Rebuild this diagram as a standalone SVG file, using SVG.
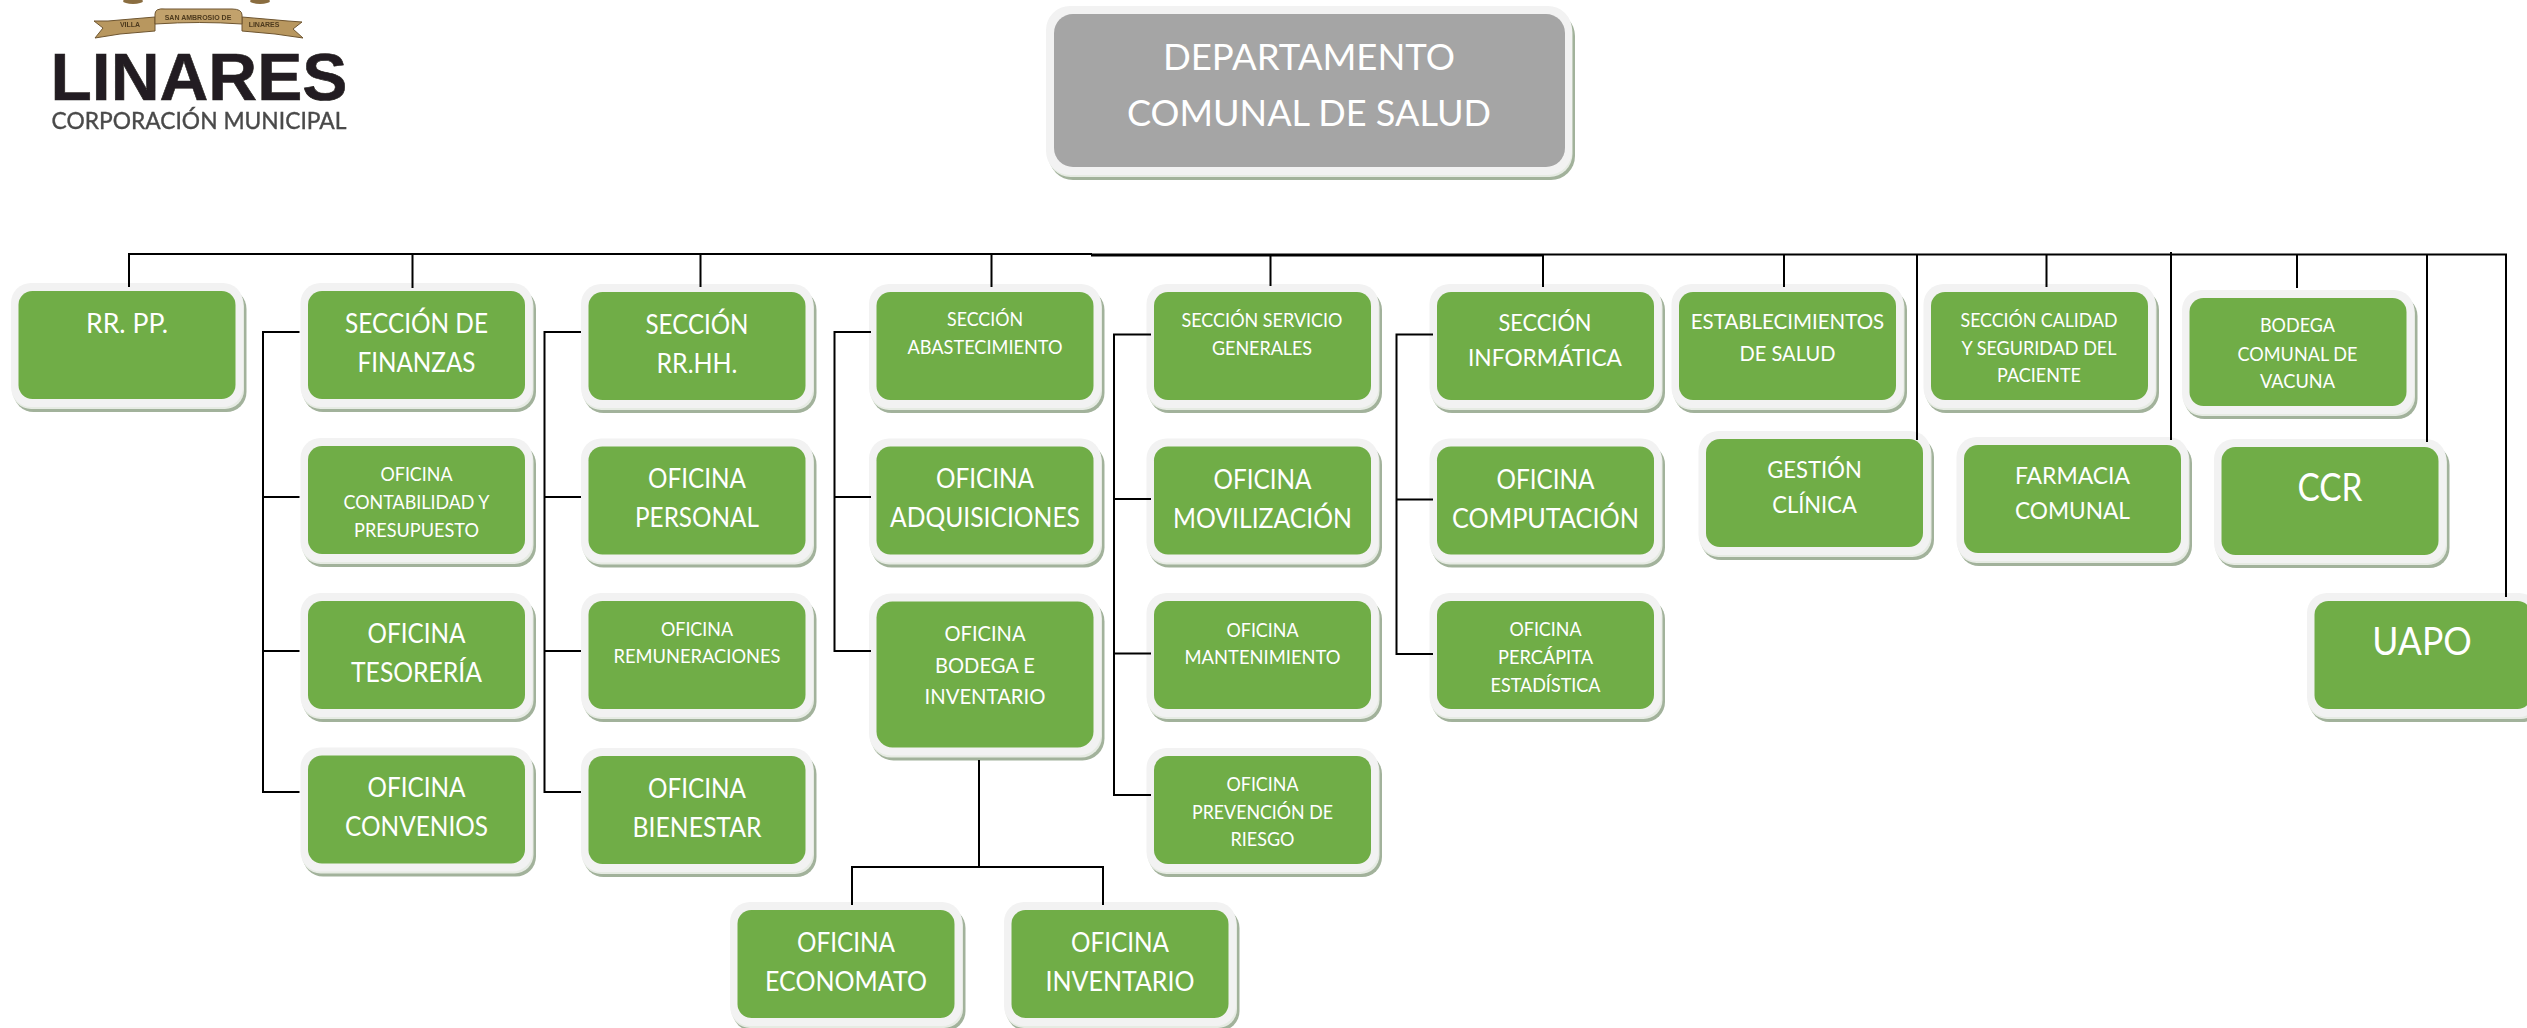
<svg xmlns="http://www.w3.org/2000/svg" width="2527" height="1028" viewBox="0 0 2527 1028">
<style>
text{font-family:Lato,"Open Sans",sans-serif;fill:#fff;text-anchor:middle}
.xl{font-size:38px}.d{font-size:36px}.l{font-size:26px}.ml{font-size:23.500px}.m{font-size:22px}.e{font-size:21px}.s{font-size:19px}
.sh{fill:#a2b29b}.hl{fill:#e6ebe3}.bd{fill:#f2f2f2}.gr{fill:#70ad47}.gy{fill:#a5a5a5}
.lg{font-family:"Liberation Sans",sans-serif;font-size:7px;font-weight:700;fill:#4d3a1e}
#connectors path{fill:none;stroke:#000;stroke-width:2}
</style>
<defs>
<g id="box"><rect class="sh" x="-5" y="-2" width="233" height="123" rx="20"/><rect class="hl" x="-6.500" y="-4" width="232" height="122" rx="19"/><rect class="bd" x="-7.500" y="-8" width="232" height="124" rx="20"/><rect class="gr" width="217" height="108" rx="14"/></g>
<g id="tall"><rect class="sh" x="-5" y="-2" width="233" height="161" rx="22"/><rect class="hl" x="-6.500" y="-4" width="232" height="160" rx="21"/><rect class="bd" x="-7.500" y="-8" width="232" height="162" rx="22"/><rect class="gr" width="217" height="146" rx="16"/></g>
<filter id="soft" x="-5%" y="-5%" width="110%" height="110%"><feGaussianBlur stdDeviation="0.6"/></filter>
</defs>

<g id="logo" filter="url(#soft)">
<ellipse cx="133" cy="1" rx="10" ry="3" fill="#8a6d3f"/><ellipse cx="260" cy="1" rx="10" ry="3" fill="#8a6d3f"/>
<path d="M108 21L94 21L103 28L95 38L120 34L155 31L155 17Z" fill="#b8975f" stroke="#6e5530"/>
<path d="M242 17L288 21L302 22L293 29L303 38L275 34L242 31Z" fill="#b8975f" stroke="#6e5530"/>
<path d="M155 14Q155 8 165 9L232 9Q242 9 242 15L242 24Q200 21 155 24Z" fill="#c2a26c" stroke="#6e5530"/>
<text class="lg" x="130" y="27">VILLA</text>
<text class="lg" x="198" y="20">SAN AMBROSIO DE</text>
<text class="lg" x="264" y="27">LINARES</text>
<text x="199" y="100" textLength="297" lengthAdjust="spacingAndGlyphs" style="font-family:'Liberation Sans',sans-serif;font-size:67px;font-weight:700;fill:#231f20;stroke:#231f20;stroke-width:.6">LINARES</text>
<text x="199" y="129" textLength="295" lengthAdjust="spacingAndGlyphs" style="font-family:Lato,sans-serif;font-size:24px;fill:#4a4a4a;stroke:#4a4a4a;stroke-width:.4">CORPORACIÓN MUNICIPAL</text>
</g>

<g id="dept"><rect class="sh" x="1049" y="12" width="526" height="168" rx="24"/><rect class="hl" x="1047.500" y="10" width="525" height="167" rx="23"/><rect class="bd" x="1046" y="6" width="526" height="169" rx="24"/><rect class="gy" x="1054" y="14" width="511" height="153" rx="19"/><text class="d" x="1309" y="70" textLength="292" lengthAdjust="spacingAndGlyphs">DEPARTAMENTO</text><text class="d" x="1309" y="126" textLength="364" lengthAdjust="spacingAndGlyphs">COMUNAL DE SALUD</text></g>

<g id="rrpp" transform="translate(18.500,291)"><use href="#box"/><text class="l" x="108.500" y="41.500" textLength="82" lengthAdjust="spacingAndGlyphs">RR. PP.</text></g>
<g id="finanzas" transform="translate(308,291)"><use href="#box"/><text class="l" x="108.500" y="41.500" textLength="143" lengthAdjust="spacingAndGlyphs">SECCIÓN DE</text><text class="l" x="108.500" y="81" textLength="118" lengthAdjust="spacingAndGlyphs">FINANZAS</text></g>
<g id="contabilidad" transform="translate(308,446)"><use href="#box"/><text class="s" x="108.500" y="35" textLength="72" lengthAdjust="spacingAndGlyphs">OFICINA</text><text class="s" x="108.500" y="63" textLength="146" lengthAdjust="spacingAndGlyphs">CONTABILIDAD Y</text><text class="s" x="108.500" y="91" textLength="125" lengthAdjust="spacingAndGlyphs">PRESUPUESTO</text></g>
<g id="tesoreria" transform="translate(308,601)"><use href="#box"/><text class="l" x="108.500" y="42" textLength="98" lengthAdjust="spacingAndGlyphs">OFICINA</text><text class="l" x="108.500" y="81" textLength="131" lengthAdjust="spacingAndGlyphs">TESORERÍA</text></g>
<g id="convenios" transform="translate(308,755.500)"><use href="#box"/><text class="l" x="108.500" y="41.500" textLength="98" lengthAdjust="spacingAndGlyphs">OFICINA</text><text class="l" x="108.500" y="80.500" textLength="143" lengthAdjust="spacingAndGlyphs">CONVENIOS</text></g>

<g id="rrhh" transform="translate(588.500,292)"><use href="#box"/><text class="l" x="108.500" y="42" textLength="103" lengthAdjust="spacingAndGlyphs">SECCIÓN</text><text class="l" x="108.500" y="80.500" textLength="81" lengthAdjust="spacingAndGlyphs">RR.HH.</text></g>
<g id="personal" transform="translate(588.500,446.500)"><use href="#box"/><text class="l" x="108.500" y="41" textLength="98" lengthAdjust="spacingAndGlyphs">OFICINA</text><text class="l" x="108.500" y="80.500" textLength="124" lengthAdjust="spacingAndGlyphs">PERSONAL</text></g>
<g id="remuneraciones" transform="translate(588.500,601)"><use href="#box"/><text class="s" x="108.500" y="35" textLength="72" lengthAdjust="spacingAndGlyphs">OFICINA</text><text class="s" x="108.500" y="62" textLength="167" lengthAdjust="spacingAndGlyphs">REMUNERACIONES</text></g>
<g id="bienestar" transform="translate(588.500,756)"><use href="#box"/><text class="l" x="108.500" y="41.500" textLength="98" lengthAdjust="spacingAndGlyphs">OFICINA</text><text class="l" x="108.500" y="81" textLength="129" lengthAdjust="spacingAndGlyphs">BIENESTAR</text></g>

<g id="abastecimiento" transform="translate(876.500,292)"><use href="#box"/><text class="s" x="108.500" y="34" textLength="76" lengthAdjust="spacingAndGlyphs">SECCIÓN</text><text class="s" x="108.500" y="62" textLength="155" lengthAdjust="spacingAndGlyphs">ABASTECIMIENTO</text></g>
<g id="adquisiciones" transform="translate(876.500,446.500)"><use href="#box"/><text class="l" x="108.500" y="41.500" textLength="98" lengthAdjust="spacingAndGlyphs">OFICINA</text><text class="l" x="108.500" y="80" textLength="190" lengthAdjust="spacingAndGlyphs">ADQUISICIONES</text></g>
<g id="bodega" transform="translate(876.500,601.500)"><use href="#tall"/><text class="m" x="108.500" y="39.500" textLength="81" lengthAdjust="spacingAndGlyphs">OFICINA</text><text class="m" x="108.500" y="71" textLength="100" lengthAdjust="spacingAndGlyphs">BODEGA E</text><text class="m" x="108.500" y="102" textLength="121" lengthAdjust="spacingAndGlyphs">INVENTARIO</text></g>
<g id="economato" transform="translate(737.500,910)"><use href="#box"/><text class="l" x="108.500" y="41.500" textLength="98" lengthAdjust="spacingAndGlyphs">OFICINA</text><text class="l" x="108.500" y="80.500" textLength="162" lengthAdjust="spacingAndGlyphs">ECONOMATO</text></g>
<g id="inventario" transform="translate(1011.500,910)"><use href="#box"/><text class="l" x="108.500" y="41.500" textLength="98" lengthAdjust="spacingAndGlyphs">OFICINA</text><text class="l" x="108.500" y="80.500" textLength="149" lengthAdjust="spacingAndGlyphs">INVENTARIO</text></g>

<g id="servicio" transform="translate(1154,292)"><use href="#box"/><text class="s" x="108" y="35" textLength="161" lengthAdjust="spacingAndGlyphs">SECCIÓN SERVICIO</text><text class="s" x="108" y="63" textLength="100" lengthAdjust="spacingAndGlyphs">GENERALES</text></g>
<g id="movilizacion" transform="translate(1154,446.500)"><use href="#box"/><text class="l" x="108.500" y="42.500" textLength="98" lengthAdjust="spacingAndGlyphs">OFICINA</text><text class="l" x="108.500" y="81" textLength="179" lengthAdjust="spacingAndGlyphs">MOVILIZACIÓN</text></g>
<g id="mantenimiento" transform="translate(1154,601)"><use href="#box"/><text class="s" x="108.500" y="35.500" textLength="72" lengthAdjust="spacingAndGlyphs">OFICINA</text><text class="s" x="108.500" y="63" textLength="156" lengthAdjust="spacingAndGlyphs">MANTENIMIENTO</text></g>
<g id="prevencion" transform="translate(1154,756)"><use href="#box"/><text class="s" x="108.500" y="35" textLength="72" lengthAdjust="spacingAndGlyphs">OFICINA</text><text class="s" x="108.500" y="63" textLength="141" lengthAdjust="spacingAndGlyphs">PREVENCIÓN DE</text><text class="s" x="108.500" y="90" textLength="64" lengthAdjust="spacingAndGlyphs">RIESGO</text></g>

<g id="informatica" transform="translate(1437,292)"><use href="#box"/><text class="ml" x="108" y="39" textLength="93" lengthAdjust="spacingAndGlyphs">SECCIÓN</text><text class="ml" x="108" y="74" textLength="154" lengthAdjust="spacingAndGlyphs">INFORMÁTICA</text></g>
<g id="computacion" transform="translate(1437,446.500)"><use href="#box"/><text class="l" x="108.500" y="42.500" textLength="98" lengthAdjust="spacingAndGlyphs">OFICINA</text><text class="l" x="108.500" y="81" textLength="187" lengthAdjust="spacingAndGlyphs">COMPUTACIÓN</text></g>
<g id="percapita" transform="translate(1437,601)"><use href="#box"/><text class="s" x="108.500" y="35" textLength="72" lengthAdjust="spacingAndGlyphs">OFICINA</text><text class="s" x="108.500" y="63" textLength="95" lengthAdjust="spacingAndGlyphs">PERCÁPITA</text><text class="s" x="108.500" y="91" textLength="110" lengthAdjust="spacingAndGlyphs">ESTADÍSTICA</text></g>

<g id="establecimientos" transform="translate(1679,292)"><use href="#box"/><text class="e" x="108.500" y="37" textLength="193.500" lengthAdjust="spacingAndGlyphs">ESTABLECIMIENTOS</text><text class="e" x="108.500" y="69" textLength="96" lengthAdjust="spacingAndGlyphs">DE SALUD</text></g>
<g id="calidad" transform="translate(1931,292)"><use href="#box"/><text class="s" x="108" y="35" textLength="157" lengthAdjust="spacingAndGlyphs">SECCIÓN CALIDAD</text><text class="s" x="108" y="63" textLength="155" lengthAdjust="spacingAndGlyphs">Y SEGURIDAD DEL</text><text class="s" x="108" y="90" textLength="84" lengthAdjust="spacingAndGlyphs">PACIENTE</text></g>
<g id="vacuna" transform="translate(2189.500,298)"><use href="#box"/><text class="s" x="108" y="34" textLength="75" lengthAdjust="spacingAndGlyphs">BODEGA</text><text class="s" x="108" y="63" textLength="120" lengthAdjust="spacingAndGlyphs">COMUNAL DE</text><text class="s" x="108" y="90" textLength="75" lengthAdjust="spacingAndGlyphs">VACUNA</text></g>
<g id="gestion" transform="translate(1706,439)"><use href="#box"/><text class="ml" x="108.500" y="39" textLength="94.500" lengthAdjust="spacingAndGlyphs">GESTIÓN</text><text class="ml" x="108.500" y="74" textLength="84.500" lengthAdjust="spacingAndGlyphs">CLÍNICA</text></g>
<g id="farmacia" transform="translate(1964,445)"><use href="#box"/><text class="ml" x="108.500" y="39" textLength="115" lengthAdjust="spacingAndGlyphs">FARMACIA</text><text class="ml" x="108.500" y="74" textLength="115" lengthAdjust="spacingAndGlyphs">COMUNAL</text></g>
<g id="ccr" transform="translate(2221.500,447)"><use href="#box"/><text class="xl" x="108.500" y="54" textLength="65" lengthAdjust="spacingAndGlyphs">CCR</text></g>
<g id="uapo" transform="translate(2314.500,601)"><use href="#box"/><text class="xl" x="107.500" y="54" textLength="99.500" lengthAdjust="spacingAndGlyphs">UAPO</text></g>

<g id="connectors">
<path d="M129 287V254H1092"/>
<path d="M1091 255H1543" style="stroke-width:3"/>
<path d="M1543 254.500H2506V597"/>
<path d="M412.500 254V288M700.500 254V287M991.500 254V287M1270.500 255V286M1543 255V287M1784 255V287M1917 255V440M2046.500 255V287M2171 252V440M2297 255V288M2427 255V442"/>
<path d="M299.500 332H263V792H299.500M263 497H299.500M263 651H299.500"/>
<path d="M581 332H544.500V792H581M544.500 497H581M544.500 651H581"/>
<path d="M871 332H834.500V651H871M834.500 497H871"/>
<path d="M1151 334.500H1114V795H1151M1114 499H1151M1114 653.500H1151"/>
<path d="M1433 334.500H1396.500V654H1433M1396.500 499.500H1433"/>
<path d="M979 760V867M852 905V867H1103V905"/>
</g>
</svg>
